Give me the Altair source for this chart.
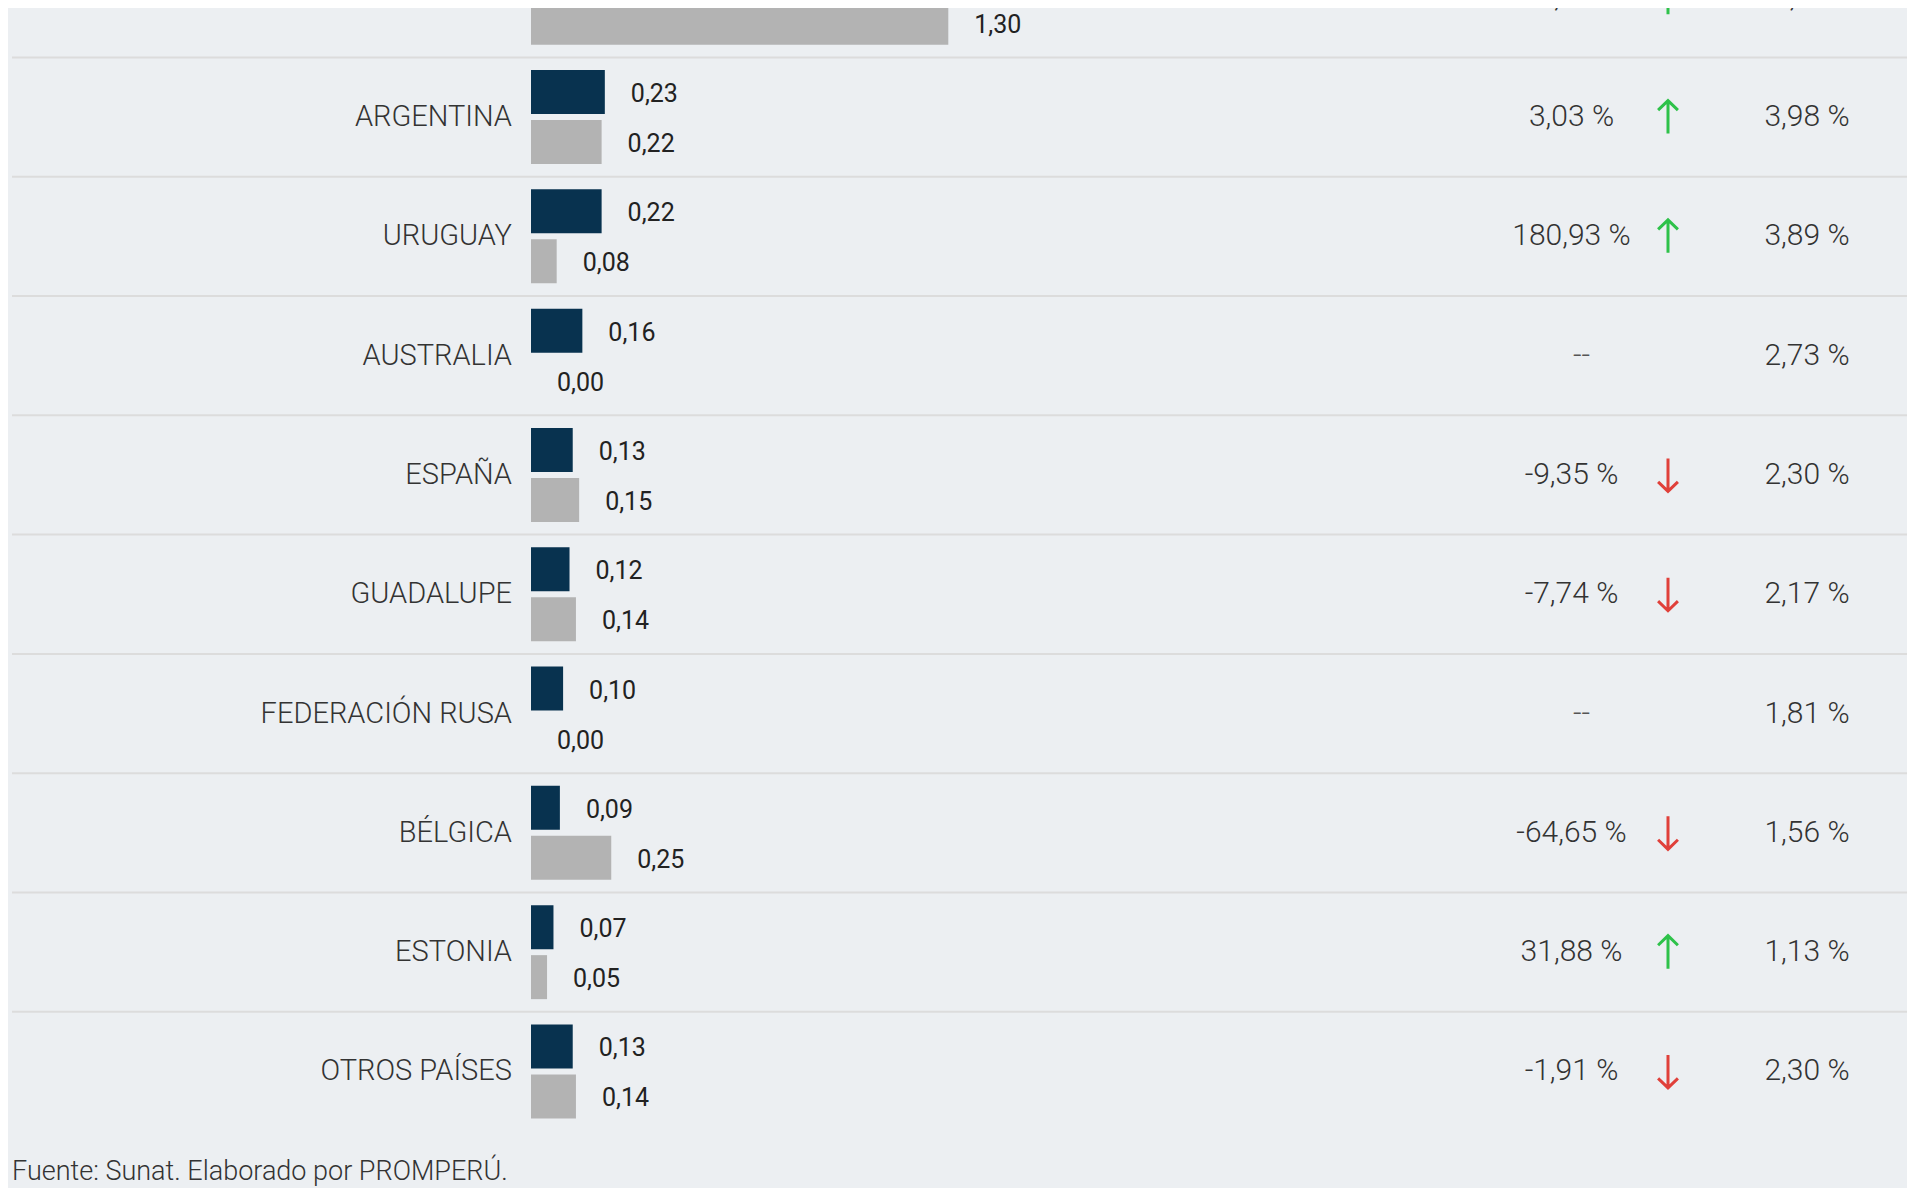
import altair as alt
import pandas as pd

# ---- data ----
countries = ["CHILE", "ARGENTINA", "URUGUAY", "AUSTRALIA", "ESPAÑA", "GUADALUPE",
             "FEDERACIÓN RUSA", "BÉLGICA", "ESTONIA", "OTROS PAÍSES"]
val_actual = [2.06, 0.23, 0.22, 0.16, 0.13, 0.12, 0.10, 0.09, 0.07, 0.13]
val_anterior = [1.30, 0.22, 0.08, 0.00, 0.15, 0.14, 0.00, 0.25, 0.05, 0.14]
var_pct = ["58,45 %", "3,03 %", "180,93 %", "--", "-9,35 %", "-7,74 %", "--",
           "-64,65 %", "31,88 %", "-1,91 %"]
trend = ["up", "up", "up", "", "down", "down", "", "down", "up", "down"]
share = ["35,87 %", "3,98 %", "3,89 %", "2,73 %", "2,30 %", "2,17 %", "1,81 %",
         "1,56 %", "1,13 %", "2,30 %"]
series = ["actual", "anterior"]
footer = ["Fuente: Sunat. Elaborado por PROMPERÚ."]

# ---- tables ----
def fmt(v):
    return f"{v:.2f}".replace(".", ",")

bars = pd.DataFrame(
    [{"country": c, "serie": series[0], "value": v, "label": fmt(v)} for c, v in zip(countries, val_actual)]
    + [{"country": c, "serie": series[1], "value": v, "label": fmt(v)} for c, v in zip(countries, val_anterior)]
)
rows = pd.DataFrame({"country": countries, "var": var_pct, "trend": trend, "share": share})
rows_var = rows[rows["var"] != "--"]
rows_na = rows[rows["var"] == "--"]
rows_arrow = rows[rows["trend"] != ""]
seps = pd.DataFrame({"country": countries[:-1]})
foot = pd.DataFrame({"t": footer})

W, H = 1899, 1180
FONT = "Roboto"

yscale = alt.Scale(domain=countries, range=[-69.9, 1123.1], paddingInner=0, paddingOuter=0)
Y = alt.Y("country:N", scale=yscale, axis=None)
xscale = alt.Scale(domain=[-523 / 321.0, (W - 523) / 321.0], nice=False, zero=False)
yoff = alt.YOffset("serie:N", scale=alt.Scale(domain=series, paddingInner=0.12, paddingOuter=0.253))

bar_layer = alt.Chart(bars).mark_bar(clip=True).encode(
    x=alt.X("value:Q", scale=xscale, axis=None, stack=None),
    y=Y,
    yOffset=yoff,
    fill=alt.Fill("serie:N", scale=alt.Scale(domain=series, range=["#08324f", "#b3b3b3"]), legend=None),
)

val_labels = alt.Chart(bars).mark_text(
    align="left", baseline="middle", dx=26, dy=2, font=FONT, fontSize=25, color="#222222", clip=True
).encode(
    x=alt.X("value:Q", scale=xscale, axis=None),
    y=Y,
    yOffset=yoff,
    text="label:N",
)

sep_layer = alt.Chart(seps).mark_rule(color="#dcdcdc", strokeWidth=2).encode(
    y=alt.Y("country:N", scale=yscale, axis=None, bandPosition=1),
    x=alt.value(4),
    x2=alt.value(W),
)

country_labels = alt.Chart(rows).mark_text(
    align="right", baseline="middle", font=FONT, fontWeight=300, fontSize=29, color="#333333"
).encode(x=alt.value(504), y=Y, text="country:N")

var_labels = alt.Chart(rows_var).mark_text(
    align="center", baseline="middle", font=FONT, fontWeight=300, fontSize=30, color="#333333"
).encode(x=alt.value(1563.5), y=Y, text="var:N")

na_labels = alt.Chart(rows_na).mark_text(
    align="center", baseline="middle", font=FONT, fontWeight=300, fontSize=30, color="#555555"
).encode(x=alt.value(1573.5), y=Y, text="var:N")

up_path = "M0,1 L0,-1 M-0.6,-0.42 L0,-1 L0.6,-0.42"
down_path = "M0,-1 L0,1 M-0.6,0.42 L0,1 L0.6,0.42"
arrows = alt.Chart(rows_arrow).mark_point(filled=False, strokeWidth=3, size=1089, opacity=1).encode(
    x=alt.value(1660),
    y=Y,
    shape=alt.Shape("trend:N", scale=alt.Scale(domain=["up", "down"], range=[up_path, down_path]), legend=None),
    stroke=alt.Stroke("trend:N", scale=alt.Scale(domain=["up", "down"], range=["#2ec24a", "#e0403a"]), legend=None),
)

share_labels = alt.Chart(rows).mark_text(
    align="center", baseline="middle", font=FONT, fontWeight=300, fontSize=30, color="#333333"
).encode(x=alt.value(1799), y=Y, text="share:N")

footer_layer = alt.Chart(foot).mark_text(
    align="left", baseline="alphabetic", font=FONT, fontWeight=300, fontSize=27, color="#333333"
).encode(x=alt.value(4), y=alt.value(1172), text="t:N")

chart = alt.layer(
    sep_layer, bar_layer, val_labels, country_labels, var_labels, na_labels, arrows,
    share_labels, footer_layer
).resolve_scale(
    fill="independent", stroke="independent"
).properties(
    width=W, height=H, padding=0, autosize=alt.AutoSizeParams(type="none"), background="#eceff2"
).configure_view(stroke=None)

chart.save("out.html", embed_options={"renderer": "svg", "actions": False})
